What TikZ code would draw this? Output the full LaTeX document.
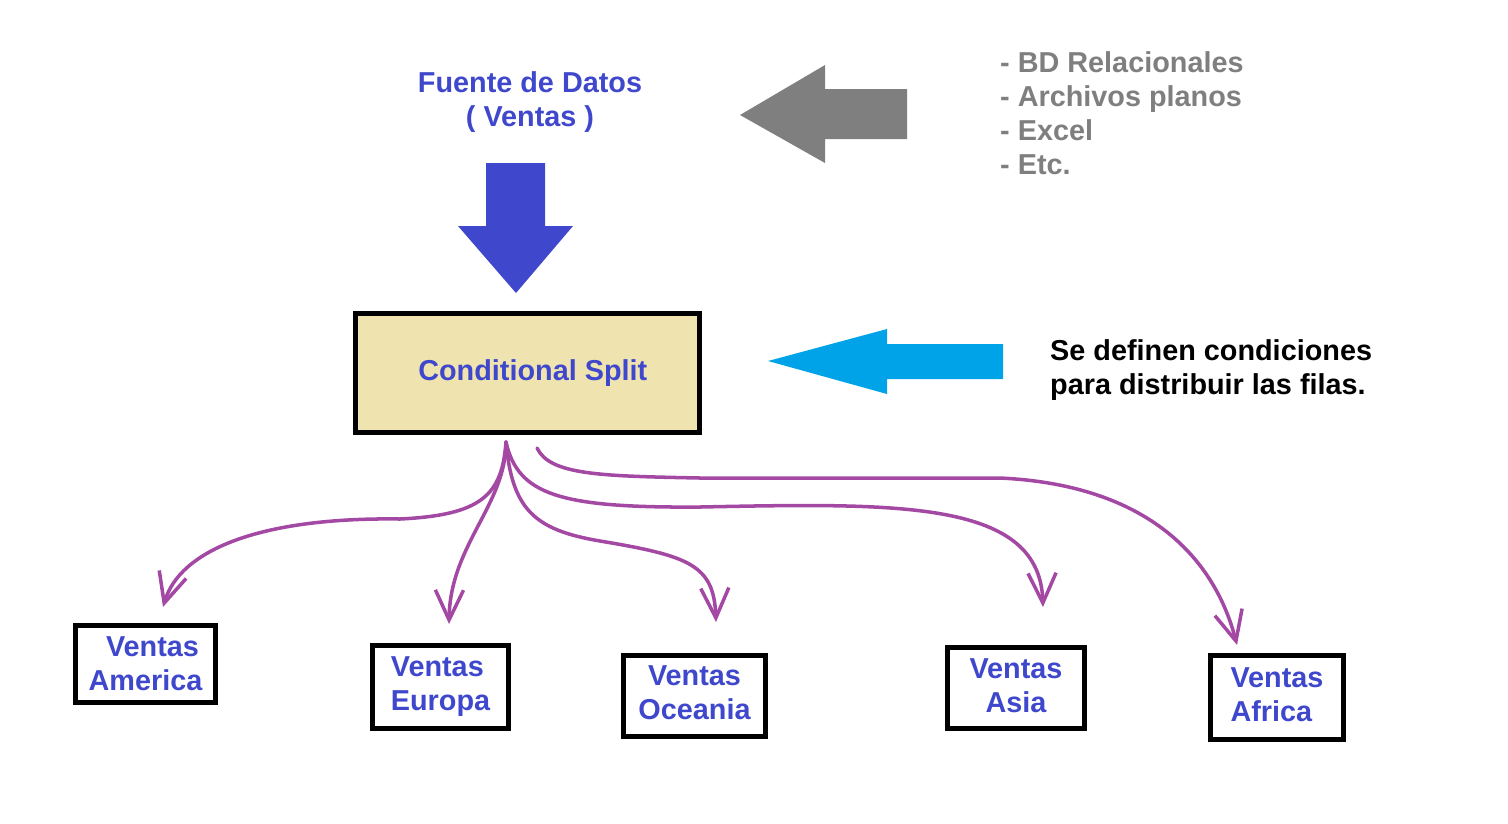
\documentclass[tikz,border=0pt]{standalone}
\usepackage{fontspec}
\setmainfont{Liberation Sans}
\usetikzlibrary{arrows.meta}
\definecolor{srcblue}{RGB}{63,72,204}
\definecolor{srcgray}{RGB}{127,127,127}
\definecolor{splitfill}{RGB}{239,228,176}
\definecolor{turq}{RGB}{0,162,232}
\definecolor{flowpurple}{RGB}{163,73,164}
\tikzset{
  txt/.style={font=\fontsize{16.4}{19.3}\selectfont\bfseries},
  region/.style={draw,line width=2.6pt,txt,text=srcblue,inner sep=0pt},
  flow/.style={draw=flowpurple,line width=2pt,line cap=round,
    -{Straight Barb[length=17pt,width=16pt]}},
}
\begin{document}
\begin{tikzpicture}[x=0.02cm,y=-0.02cm]
    \useasboundingbox (0,0) rectangle (1508,823);
    % source and its arrows
    \node[txt,text=srcblue,align=center] (fuente) at (530,102) {Fuente de Datos\\( Ventas )};
    \fill[srcblue] (486,163) -- (545,163) -- (545,226) -- (573,226) -- (516,293)
        -- (458,226) -- (486,226) -- cycle;
    \fill[srcgray] (740,115) -- (825,65) -- (825,89) -- (907,89) -- (907,139)
        -- (825,139) -- (825,163) -- cycle;
    \node[txt,text=srcgray,align=left,anchor=west] (tipos) at (994,113)
        {- BD Relacionales\\- Archivos planos\\- Excel\\- Etc.};
    % the split
    \node[region,fill=splitfill,line width=3pt,minimum width=6.88cm,minimum height=2.37cm]
        (split) at (527.5,373) {\hspace{6pt}Conditional Split};
    \fill[turq] (768,361) -- (887,329) -- (887,344) -- (1003,344) -- (1003,379)
        -- (887,379) -- (887,394) -- cycle;
    \node[txt,align=left,anchor=west] (nota) at (1044,370)
        {Se definen condiciones\\para distribuir las filas.};
    % regions
    \node[region,minimum width=2.8cm,minimum height=1.54cm,align=center] (america) at (145.5,664) {\hspace{8pt}Ventas\\America};
    \node[region,minimum width=2.72cm,minimum height=1.66cm,align=left] (europa) at (440.5,687) {Ventas\\Europa};
    \node[region,minimum width=2.84cm,minimum height=1.62cm,align=center,text depth=0.12cm] (oceania) at (694.5,696) {Ventas\\Oceania};
    \node[region,minimum width=2.74cm,minimum height=1.62cm,align=center,text depth=0.08cm] (asia) at (1016,688) {Ventas\\Asia};
    \node[region,minimum width=2.66cm,minimum height=1.68cm,align=left,text depth=0.12cm] (africa) at (1277,697.5) {Ventas\\Africa};
    % flows
    \coordinate (src) at (506,442);
    \coordinate (srcB) at (537,448);
    \coordinate (tAmer) at (163,607);
    \coordinate (tEur) at (449,624);
    \coordinate (tOce) at (716,622);
    \coordinate (tAsia) at (1043,607);
    \coordinate (tAfr) at (1237,645);
    \draw[flow] (src) .. controls (502,495) and (482,515) .. (400,519)
        .. controls (260,517) and (180,550) .. (tAmer);
    \draw[flow] (src) .. controls (506,505) and (450,545) .. (tEur);
    \draw[flow] (src) .. controls (512,510) and (535,530) .. (600,541)
        .. controls (690,556) and (714,565) .. (tOce);
    \draw[flow] (src) .. controls (518,495) and (560,508) .. (700,507)
        .. controls (900,503) and (1040,500) .. (tAsia);
    \draw[flow] (srcB) .. controls (550,475) and (600,476) .. (700,478)
        -- (1000,478) .. controls (1150,485) and (1215,560) .. (tAfr);
\end{tikzpicture}
\end{document}
